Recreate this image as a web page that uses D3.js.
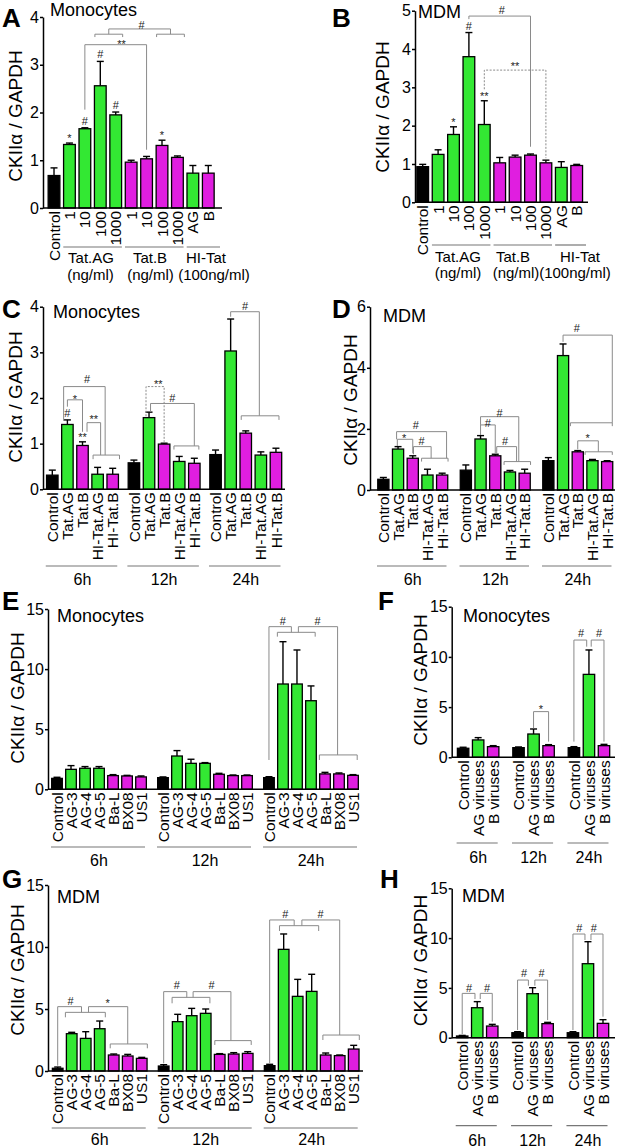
<!DOCTYPE html>
<html><head><meta charset="utf-8">
<script src="https://cdn.jsdelivr.net/npm/d3@7"></script>
<style>body{margin:0;background:#fff}svg{display:block}</style>
</head><body><svg id="c" width="619" height="1148"></svg>
<script>
// ---------- DATA ----------
const doseCats = ["Control","1","10","100","1000","1","10","100","1000","AG","B"];
const doseTypes = ["ctrl","ag","ag","ag","ag","b","b","b","b","ag","b"];
const doseGroupLabels = [["Tat.AG","(ng/ml)"],["Tat.B","(ng/ml)"],["HI-Tat","(100ng/ml)"]];
const doseGroupSpans = [[1,4],[5,8],[9,10]];

const timeLabels = ["6h","12h","24h"];
const tatCats = ["Control","Tat.AG","Tat.B","HI-Tat.AG","HI-Tat.B"];
const tatTypes = ["ctrl","ag","b","ag","b"];
const virusCats = ["Control","AG-3","AG-4","AG-5","Ba-L","BX08","US1"];
const virusTypes = ["ctrl","ag","ag","ag","b","b","b"];
const pooledCats = ["Control","AG viruses","B viruses"];
const pooledTypes = ["ctrl","ag","b"];

// Panel A (Monocytes, dose)
const meanA = [0.68,1.33,1.66,2.56,1.95,0.96,1.03,1.31,1.06,0.73,0.73];
const semA  = [0.16,0.03,0.02,0.51,0.06,0.04,0.05,0.11,0.03,0.16,0.16];
const marksA = [[1,"*"],[2,"#"],[3,"#"],[4,"#"],[7,"*"]];
const sigLinesA = [
  {pts:[[2,2.06],[2,3.42],[6,3.42],[6,1.22]]},
  {pts:[[2.65,3.58],[2.65,3.64],[4.45,3.64],[4.45,3.58]]},
  {pts:[[6.65,3.58],[6.65,3.64],[8.45,3.64],[8.45,3.58]]},
  {pts:[[3.55,3.64],[3.55,3.75],[7.55,3.75],[7.55,3.64]]}
];
const sigTextsA = [[5.68,3.84,"#"],[4.38,3.49,"**"]];

// Panel B (MDM, dose)
const meanB = [0.93,1.25,1.77,3.80,2.03,1.03,1.18,1.23,1.03,0.91,0.96];
const semB  = [0.06,0.12,0.20,0.63,0.62,0.14,0.05,0.03,0.07,0.15,0.03];
const marksB = [[2,"*"],[3,"#"],[4,"**"]];
const sigLinesB = [
  {pts:[[3,4.78],[3,4.86],[7,4.86],[7,1.45]]},
  {pts:[[4,2.95],[4,3.45],[8,3.45],[8,1.15]], dash:true}
];
const sigTextsB = [[5.13,5.03,"#"],[6.0,3.61,"**"]];

// Panel C (Monocytes, Tat time course)
const meanC = [[0.31,1.42,0.96,0.33,0.33],[0.58,1.57,0.99,0.61,0.57],[0.76,3.03,1.23,0.75,0.81]];
const semC  = [[0.11,0.10,0.08,0.15,0.13],[0.06,0.12,0.02,0.11,0.11],[0.10,0.70,0.05,0.07,0.09]];
const marksC = [[1,"#"],[2,"**"]];
const sigLinesC = [
  {pts:[[1,1.81],[1,1.96],[2,1.96],[2,1.26]]},
  {pts:[[2.3,1.26],[2.3,1.46],[3.2,1.46],[3.2,0.75]]},
  {pts:[[2.7,0.66],[2.7,0.75],[4.45,0.75],[4.45,0.66]]},
  {pts:[[0.75,1.5],[0.75,2.25],[3.5,2.25],[3.5,0.75]]},
  {pts:[[5.8,1.6],[5.8,2.25],[7,2.25],[7,1.04]], dash:true},
  {pts:[[6.1,1.70],[6.1,1.88],[9,1.88],[9,0.95]]},
  {pts:[[7.65,0.87],[7.65,0.95],[9.3,0.95],[9.3,0.87]]},
  {pts:[[11,3.78],[11,3.89],[12.9,3.89],[12.9,1.61]]},
  {pts:[[11.7,1.52],[11.7,1.61],[14.2,1.61],[14.2,1.52]]}
];
const sigTextsC = [[2.3,2.41,"#"],[1.5,2.03,"*"],[2.75,1.59,"**"],[6.62,2.36,"**"],[7.55,2.01,"#"],[11.95,4.01,"#"]];

// Panel D (MDM, Tat time course)
const meanD = [[0.35,1.34,1.04,0.49,0.49],[0.65,1.67,1.12,0.59,0.55],[0.96,4.40,1.25,0.96,0.93]];
const semD  = [[0.06,0.08,0.08,0.19,0.06],[0.17,0.11,0.05,0.05,0.13],[0.10,0.38,0.04,0.04,0.03]];
const marksD = [];
const sigLinesD = [
  {pts:[[0.95,1.44],[0.95,1.66],[2,1.66],[2,1.2]]},
  {pts:[[2.05,1.17],[2.05,1.42],[3.25,1.42],[3.25,1.04]]},
  {pts:[[2.6,0.93],[2.6,1.04],[4.4,1.04],[4.4,0.93]]},
  {pts:[[0.9,1.66],[0.9,1.91],[4.3,1.91],[4.3,1.04]]},
  {pts:[[6,2.13],[6,2.4],[8.6,2.4],[8.6,0.93]]},
  {pts:[[6,1.8],[6,2.13],[7,2.13],[7,1.2]]},
  {pts:[[7.1,1.2],[7.1,1.42],[8.45,1.42],[8.45,0.93]]},
  {pts:[[7.6,0.82],[7.6,0.93],[9.4,0.93],[9.4,0.82]]},
  {pts:[[11,4.85],[11,5.07],[14.35,5.07],[14.35,2.2]]},
  {pts:[[11.5,2.09],[11.5,2.2],[14.35,2.2],[14.35,2.09]]},
  {pts:[[12,1.33],[12,1.61],[13.4,1.61],[13.4,1.25]]},
  {pts:[[12.5,1.15],[12.5,1.25],[14.35,1.25],[14.35,1.15]]}
];
const sigTextsD = [[1.42,1.78,"*"],[2.6,1.6,"#"],[2.21,2.13,"#"],[7.29,2.53,"#"],[6.49,2.18,"#"],[7.67,1.61,"#"],[11.94,5.29,"#"],[12.67,1.78,"*"]];

// Panel E (Monocytes, virus isolates)
const meanE = [[0.91,1.66,1.75,1.75,1.14,1.11,1.03],[0.97,2.77,2.16,2.16,1.25,1.14,1.14],[0.97,8.76,8.76,7.37,1.28,1.28,1.16]];
const semE  = [[0.09,0.31,0.14,0.14,0.08,0.05,0.08],[0.06,0.45,0.34,0.06,0.08,0.05,0.05],[0.08,3.52,2.83,1.23,0.13,0.08,0.06]];
const marksE = [];
const sigLinesE = [
  {pts:[[14,2.44],[14,13.53],[15.6,13.53],[15.6,13.06]]},
  {pts:[[14.6,12.7],[14.6,13.06],[17.3,13.06],[17.3,12.7]]},
  {pts:[[16.1,13.06],[16.1,13.53],[18.9,13.53],[18.9,2.86]]},
  {pts:[[17.6,2.44],[17.6,2.86],[20.3,2.86],[20.3,2.44]]}
];
const sigTextsE = [[14.98,14.0,"#"],[17.47,14.0,"#"]];

// Panel F (Monocytes, pooled viruses)
const meanF = [[0.90,1.73,1.06],[0.96,2.32,1.16],[0.96,8.26,1.16]];
const semF  = [[0.10,0.23,0.10],[0.07,0.50,0.10],[0.10,2.43,0.13]];
const marksF = [];
const sigLinesF = [
  {pts:[[4,2.89],[4,4.55],[5,4.55],[5,1.56]]},
  {pts:[[6,1.56],[6,11.68],[6.85,11.68],[6.85,11.02]]},
  {pts:[[7.15,11.02],[7.15,11.68],[8,11.68],[8,1.56]]}
];
const sigTextsF = [[4.49,5.04,"*"],[6.47,12.35,"#"],[7.68,12.35,"#"]];

// Panel G (MDM, virus isolates)
const meanG = [[0.22,3.01,2.63,3.41,1.29,1.21,1.02],[0.40,3.98,4.46,4.65,1.34,1.37,1.42],[0.43,9.81,6.02,6.42,1.29,1.24,1.77]];
const semG  = [[0.10,0.11,0.54,0.62,0.08,0.13,0.08],[0.11,0.59,0.59,0.35,0.06,0.11,0.14],[0.11,1.24,1.37,1.38,0.16,0.05,0.30]];
const marksG = [];
const sigLinesG = [
  {pts:[[0,0.43],[0,5.19],[1.7,5.19],[1.7,4.73]]},
  {pts:[[0.55,4.33],[0.55,4.73],[3.4,4.73],[3.4,4.33]]},
  {pts:[[2.2,4.73],[2.2,5.19],[5,5.19],[5,2.18]]},
  {pts:[[3.75,1.83],[3.75,2.18],[6.4,2.18],[6.4,1.83]]},
  {pts:[[7,0.62],[7,6.4],[8.65,6.4],[8.65,5.94]]},
  {pts:[[7.6,5.46],[7.6,5.94],[10.3,5.94],[10.3,5.46]]},
  {pts:[[9.1,5.94],[9.1,6.4],[11.8,6.4],[11.8,2.45]]},
  {pts:[[10.65,2.1],[10.65,2.45],[13.25,2.45],[13.25,2.1]]},
  {pts:[[14,0.62],[14,12.18],[15.75,12.18],[15.75,11.72]]},
  {pts:[[14.7,11.29],[14.7,11.72],[17.5,11.72],[17.5,11.29]]},
  {pts:[[16.3,11.72],[16.3,12.18],[19,12.18],[19,2.9]]},
  {pts:[[17.8,2.5],[17.8,2.9],[20.4,2.9],[20.4,2.5]]}
];
const sigTextsG = [[0.92,5.67,"#"],[3.56,5.67,"*"],[7.94,6.94,"#"],[10.41,6.94,"#"],[15.11,12.69,"#"],[17.64,12.69,"#"]];

// Panel H (MDM, pooled viruses)
const meanH = [[0.17,3.01,1.17],[0.50,4.42,1.41],[0.50,7.43,1.44]];
const semH  = [[0.06,0.61,0.17],[0.10,0.60,0.13],[0.10,2.21,0.37]];
const marksH = [];
const sigLinesH = [
  {pts:[[0,0.37],[0,4.45],[0.85,4.45],[0.85,3.88]]},
  {pts:[[1.2,3.88],[1.2,4.45],[2,4.45],[2,1.61]]},
  {pts:[[3,0.77],[3,5.79],[3.72,5.79],[3.72,5.22]]},
  {pts:[[4.15,5.22],[4.15,5.79],[5,5.79],[5,1.77]]},
  {pts:[[6,0.77],[6,10.41],[6.8,10.41],[6.8,9.81]]},
  {pts:[[7.2,9.81],[7.2,10.41],[8,10.41],[8,2.11]]}
];
const sigTextsH = [[0.46,5.02,"#"],[1.66,5.02,"#"],[3.44,6.46,"#"],[4.6,6.46,"#"],[6.43,11.05,"#"],[7.39,11.05,"#"]];

const yTitle = "CKIIα / GAPDH";

// ---------- DRAWING ----------
const FONT = '"Liberation Sans", Arial, Helvetica, sans-serif';
const GREEN = '#33e833', MAG = '#e01ee0', SIG = '#8a8a8a';
const fillOf = t => t === 'ctrl' ? '#000' : (t === 'ag' ? GREEN : MAG);
const svg = d3.select('#c').style('font-family', FONT);
svg.append('rect').attr('width', 619).attr('height', 1148).attr('fill', '#fff');

function panel(c) {
  const g = svg.append('g');
  const nG = c.means.length, nB = c.cats.length;
  const y = d3.scaleLinear().domain([0, c.ymax]).range([c.y0, c.yTop]);
  const outer = d3.scaleBand().domain(d3.range(nG)).range(c.xr).paddingInner(c.gpad).paddingOuter(0);
  const inner = d3.scaleBand().domain(d3.range(nB)).range([0, outer.bandwidth()]);
  const xc = k => {
    const gi = Math.max(0, Math.min(nG - 1, Math.floor(k / nB)));
    return outer(gi) + (k - gi * nB + 0.5) * inner.step();
  };
  const bw = inner.step() * 0.76;

  // letter, title, y title
  g.append('text').attr('x', c.lx).attr('y', c.ly).attr('font-size', 26).attr('font-weight', 'bold').text(c.letter);
  g.append('text').attr('x', c.tx).attr('y', c.ty).attr('font-size', 18).text(c.title);
  g.append('text').attr('transform', `translate(${c.ylab[0]},${c.ylab[1]}) rotate(-90)`)
    .attr('text-anchor', 'middle').attr('dy', '0.35em').attr('font-size', 19).text(yTitle);

  // bars
  const flat = [];
  c.means.forEach((arr, gi) => arr.forEach((m, i) => flat.push({k: gi * nB + i, m, s: c.sems[gi][i], t: c.types[i], cat: c.cats[i]})));
  g.selectAll('rect.bar').data(flat).join('rect').attr('class', 'bar')
    .attr('x', d => xc(d.k) - bw / 2).attr('width', bw)
    .attr('y', d => y(d.m)).attr('height', d => c.y0 - y(d.m))
    .attr('fill', d => fillOf(d.t)).attr('stroke', '#000').attr('stroke-width', 1.3);
  // error bars
  const eb = g.selectAll('g.eb').data(flat).join('g').attr('class', 'eb')
    .attr('stroke', '#000').attr('stroke-width', 1.4);
  eb.append('line').attr('x1', d => xc(d.k)).attr('x2', d => xc(d.k)).attr('y1', d => y(d.m)).attr('y2', d => y(d.m + d.s));
  eb.append('line').attr('x1', d => xc(d.k) - 3.5).attr('x2', d => xc(d.k) + 3.5).attr('y1', d => y(d.m + d.s)).attr('y2', d => y(d.m + d.s));

  // axes
  const ax = g.append('g').attr('transform', `translate(${c.axisX},0)`)
    .call(d3.axisLeft(y).tickValues(c.ticks).tickSize(3).tickPadding(1).tickSizeOuter(0).tickFormat(d3.format('d')));
  ax.selectAll('path,line').attr('stroke', '#000').attr('stroke-width', 1.5);
  ax.selectAll('text').attr('font-size', 16).attr('font-family', FONT).attr('fill', '#000');
  g.append('line').attr('x1', c.axisX).attr('x2', c.xEnd).attr('y1', c.y0).attr('y2', c.y0)
    .attr('stroke', '#000').attr('stroke-width', 1.5);

  // x labels
  g.selectAll('text.xl').data(flat).join('text').attr('class', 'xl')
    .attr('transform', d => `translate(${xc(d.k)},${c.y0 + 3}) rotate(-90)`)
    .attr('text-anchor', 'end').attr('dy', '0.36em').attr('font-size', 15.5).text(d => d.cat);

  // group labels
  if (c.doseGroups) {
    const st = inner.step();
    doseGroupSpans.forEach((sp, i) => {
      const x1 = xc(sp[0]) - 0.4 * st;
      const x2 = i === doseGroupSpans.length - 1 ? c.xEnd - 2 : xc(sp[1]) + 0.4 * st;
      g.append('line').attr('x1', x1).attr('x2', x2).attr('y1', c.lineY).attr('y2', c.lineY)
        .attr('stroke', '#777').attr('stroke-width', 1.2);
      doseGroupLabels[i].forEach((t, j) => {
        g.append('text').attr('x', c.glx[i][j]).attr('y', c.gly[j]).attr('text-anchor', 'middle')
          .attr('font-size', 15).text(t);
      });
    });
  } else {
    timeLabels.forEach((t, gi) => {
      g.append('line').attr('x1', outer(gi) + 1).attr('x2', outer(gi) + outer.bandwidth() - 3)
        .attr('y1', c.lineY).attr('y2', c.lineY).attr('stroke', '#777').attr('stroke-width', 1.2);
      g.append('text').attr('x', outer(gi) + outer.bandwidth() / 2).attr('y', c.textY)
        .attr('text-anchor', 'middle').attr('font-size', 16).text(t);
    });
  }

  // significance brackets
  const line = d3.line().x(p => xc(p[0])).y(p => y(p[1]));
  c.lines.forEach(l => {
    g.append('path').attr('d', line(l.pts)).attr('fill', 'none').attr('stroke', SIG)
      .attr('stroke-width', 1).attr('stroke-dasharray', l.dash ? '2,1.5' : null);
  });
  const dyOf = t => t.includes('#') ? 4 : 6.3;
  c.texts.forEach(([k, v, t]) => {
    g.append('text').attr('x', xc(k)).attr('y', y(v) + dyOf(t)).attr('text-anchor', 'middle')
      .attr('font-size', 11).attr('fill', '#222').text(t);
  });
  c.marks.forEach(([k, t]) => {
    const d = flat[k];
    g.append('text').attr('x', xc(k)).attr('y', y(d.m + d.s) - 7 + dyOf(t)).attr('text-anchor', 'middle')
      .attr('font-size', 11).attr('fill', '#222').text(t);
  });
}

panel({letter:'A', lx:2, ly:27, title:'Monocytes', tx:50, ty:15.5, ylab:[15,116],
  axisX:43, xEnd:222, xr:[46.3,216], gpad:0, y0:208, yTop:17, ymax:4, ticks:[0,1,2,3,4],
  cats:doseCats, types:doseTypes, means:[meanA], sems:[semA],
  lines:sigLinesA, texts:sigTextsA, marks:marksA,
  doseGroups:true, lineY:247, gly:[263,280], glx:[[91,90.5],[150,150.5],[206,214]]});

panel({letter:'B', lx:332, ly:27, title:'MDM', tx:418, ty:18, ylab:[382,107],
  axisX:415, xEnd:588, xr:[415,584.4], gpad:0, y0:202.3, yTop:10.7, ymax:5, ticks:[0,1,2,3,4,5],
  cats:doseCats, types:doseTypes, means:[meanB], sems:[semB],
  lines:sigLinesB, texts:sigTextsB, marks:marksB,
  doseGroups:true, lineY:245, gly:[262,278], glx:[[458,458],[513,516],[580,575]]});

panel({letter:'C', lx:2, ly:318, title:'Monocytes', tx:53, ty:318, ylab:[15,397],
  axisX:43, xEnd:285, xr:[44.75,283.5], gpad:0.075, y0:489.3, yTop:306.7, ymax:4, ticks:[0,1,2,3,4],
  cats:tatCats, types:tatTypes, means:meanC, sems:semC,
  lines:sigLinesC, texts:sigTextsC, marks:marksC, lineY:566, textY:585});

panel({letter:'D', lx:332, ly:318, title:'MDM', tx:383, ty:322, ylab:[350,400],
  axisX:370, xEnd:615, xr:[376,614.5], gpad:0.109, y0:490, yTop:306.7, ymax:6, ticks:[0,2,4,6],
  cats:tatCats, types:tatTypes, means:meanD, sems:semD,
  lines:sigLinesD, texts:sigTextsD, marks:marksD, lineY:566, textY:585});

panel({letter:'E', lx:2, ly:610, title:'Monocytes', tx:57, ty:622, ylab:[17,698],
  axisX:48, xEnd:359, xr:[50,360], gpad:0.075, y0:789.3, yTop:609, ymax:15, ticks:[0,5,10,15],
  cats:virusCats, types:virusTypes, means:meanE, sems:semE,
  lines:sigLinesE, texts:sigTextsE, marks:marksE, lineY:847, textY:866});

panel({letter:'F', lx:378, ly:610, title:'Monocytes', tx:463, ty:621.7, ylab:[420.5,680],
  axisX:451.7, xEnd:615, xr:[455.6,611.5], gpad:0.186, y0:757.3, yTop:606.7, ymax:15, ticks:[0,5,10,15],
  cats:pooledCats, types:pooledTypes, means:meanF, sems:semF,
  lines:sigLinesF, texts:sigTextsF, marks:marksF, lineY:843, textY:863});

panel({letter:'G', lx:2, ly:888, title:'MDM', tx:57, ty:903, ylab:[17,970],
  axisX:48, xEnd:363, xr:[50.7,360.7], gpad:0.075, y0:1071, yTop:885, ymax:15, ticks:[0,5,10,15],
  cats:virusCats, types:virusTypes, means:meanG, sems:semG,
  lines:sigLinesG, texts:sigTextsG, marks:marksG, lineY:1128, textY:1145});

panel({letter:'H', lx:380, ly:888, title:'MDM', tx:462, ty:901.7, ylab:[420.5,960.5],
  axisX:451.7, xEnd:615, xr:[454.7,610.5], gpad:0.186, y0:1037.7, yTop:888.3, ymax:15, ticks:[0,5,10,15],
  cats:pooledCats, types:pooledTypes, means:meanH, sems:semH,
  lines:sigLinesH, texts:sigTextsH, marks:marksH, lineY:1125.7, textY:1145.5});
</script>
</body></html>
